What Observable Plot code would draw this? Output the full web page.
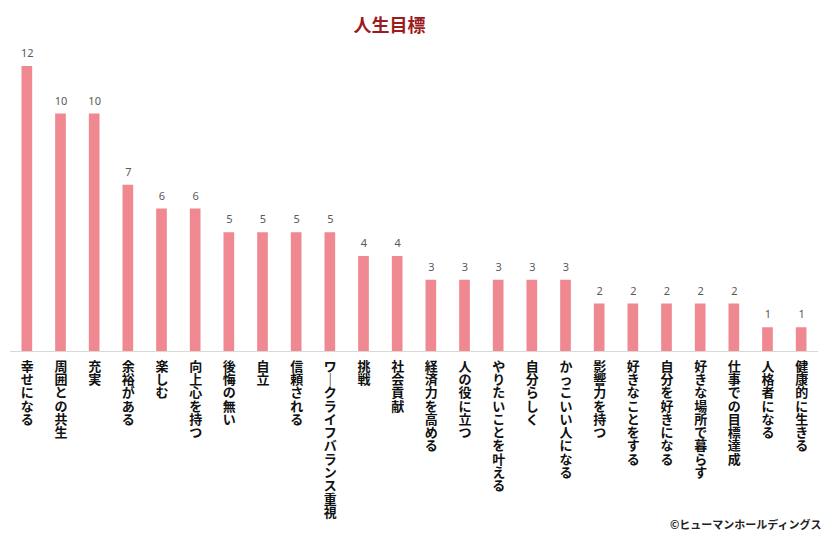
<!DOCTYPE html>
<html>
<head>
<meta charset="utf-8">
<script src="https://cdn.jsdelivr.net/npm/d3@7"></script>
<script src="https://cdn.jsdelivr.net/npm/@observablehq/plot@0.6"></script>
<style>
  html, body { margin: 0; padding: 0; background: #fff; }
  #chart svg { display: block; }
</style>
</head>
<body>
<div id="chart"></div>
<script>
const categories = [
  "幸せになる", "周囲との共生", "充実", "余裕がある", "楽しむ", "向上心を持つ",
  "後悔の無い", "自立", "信頼される", "ワークライフバランス重視", "挑戦", "社会貢献",
  "経済力を高める", "人の役に立つ", "やりたいことを叶える", "自分らしく", "かっこいい人になる",
  "影響力を持つ", "好きなことをする", "自分を好きになる", "好きな場所で暮らす",
  "仕事での目標達成", "人格者になる", "健康的に生きる"
];
const values = [12, 10, 10, 7, 6, 6, 5, 5, 5, 5, 4, 4, 3, 3, 3, 3, 3, 2, 2, 2, 2, 2, 1, 1];
const title = "人生目標";
const credit = "©ヒューマンホールディングス";

const data = categories.map((c, i) => ({category: c, value: values[i]}));

// stack characters vertically (tategaki); long vowel mark becomes vertical
const vertical = s => [...s].map(ch => ch === "ー" ? "｜" : ch).join("\n");

const plot = Plot.plot({
  width: 832,
  height: 549,
  marginTop: 66,
  marginBottom: 198,
  marginLeft: 10,
  marginRight: 14,
  style: {background: "#fff", fontFamily: "'Noto Sans CJK JP', sans-serif"},
  x: {domain: categories, padding: 0, round: false, axis: null},
  y: {domain: [0, 12], axis: null},
  marks: [
    Plot.barY(data, {x: "category", y: "value", fill: "#EF8890", insetLeft: 11.5, insetRight: 11.5}),
    Plot.ruleY([0], {stroke: "#d9d9d9", strokeWidth: 1}),
    Plot.text(data, {
      x: "category", y: "value", text: d => String(d.value),
      dy: -13, fill: "#595959", fontSize: 11,
      fontFamily: "'Noto Sans', sans-serif"
    }),
    Plot.text(data, {
      x: "category", y: () => 0, text: d => vertical(d.category),
      dy: 10, fill: "#111", fontSize: 13, fontWeight: "bold",
      lineAnchor: "top", lineHeight: 1.02,
      fontFamily: "'Noto Sans CJK JP', sans-serif"
    }),
    Plot.text([title], {
      frameAnchor: "top", dx: -25, dy: -40, lineAnchor: "middle", text: d => d,
      fill: "#9C1B1B", fontSize: 18, fontWeight: "bold",
      fontFamily: "'Noto Sans CJK JP', sans-serif"
    }),
    Plot.text([credit], {
      frameAnchor: "bottom-right", dx: 3, dy: 174, lineAnchor: "middle", text: d => d,
      fill: "#222", fontSize: 11, fontWeight: "bold", textAnchor: "end",
      fontFamily: "'Noto Sans CJK JP', sans-serif"
    })
  ]
});

document.getElementById("chart").appendChild(plot);
</script>
</body>
</html>
